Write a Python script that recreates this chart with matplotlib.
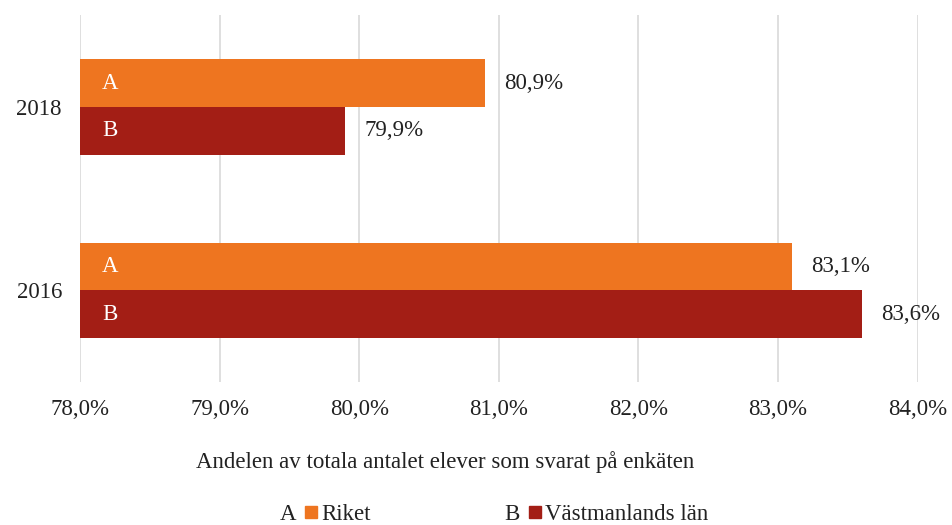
import matplotlib.pyplot as plt
from matplotlib.patches import Rectangle

# Data
years = ['2016', '2018']
riket = [83.1, 80.9]
vastmanland = [83.6, 79.9]
series_names = ['Riket', 'Västmanlands län']
series_letters = ['A', 'B']
colors = ['#EE7520', '#A31E15']
xticks = [78, 79, 80, 81, 82, 83, 84]

plt.rcParams['font.family'] = ['Liberation Serif', 'DejaVu Serif']
FS = 16.5

fig = plt.figure(figsize=(9.52, 5.25), dpi=100)
ax = fig.add_axes([0.084, 0.272, 0.88, 0.699])

h = 0.26
pos = list(range(len(years)))
bars_a = ax.barh([p + h / 2 for p in pos], [v - 78 for v in riket], left=78,
                 height=h, color=colors[0], zorder=2)
bars_b = ax.barh([p - h / 2 for p in pos], [v - 78 for v in vastmanland], left=78,
                 height=h, color=colors[1], zorder=2)

# value labels and letters inside bars
for bars, vals, letter in [(bars_a, riket, 'A'), (bars_b, vastmanland, 'B')]:
    for b, v in zip(bars, vals):
        yc = b.get_y() + b.get_height() / 2
        ax.annotate(f'{v:.1f}%'.replace('.', ','), (v, yc), xytext=(14, 0),
                    textcoords='offset points', ha='left', va='center',
                    fontsize=FS, color='#222222')
        ax.annotate(letter, (78, yc), xytext=(16, 0), textcoords='offset points',
                    ha='left', va='center', fontsize=FS, color='white')

ax.set_xlim(78, 84)
ax.set_ylim(-0.5, 1.5)
ax.set_xticks(xticks)
ax.set_xticklabels([f'{t:.1f}%'.replace('.', ',') for t in xticks], fontsize=FS, color='#222222')
ax.set_yticks(pos)
ax.set_yticklabels(years, fontsize=FS, color='#222222')
ax.tick_params(axis='x', length=0, pad=12)
ax.tick_params(axis='y', length=0, pad=13)
ax.grid(axis='x', color='#d9d9d9', linewidth=1.2, zorder=0)
for s in ax.spines.values():
    s.set_visible(False)

fig.text(0.468, 0.12, 'Andelen av totala antalet elever som svarat på enkäten',
         ha='center', va='center', fontsize=FS, color='#222222')

# legend: letter, colour square, name
legend_x = [0.294, 0.530]
for x0, letter, name, c in zip(legend_x, series_letters, series_names, colors):
    fig.text(x0, 0.010, letter, ha='left', va='baseline', fontsize=FS, color='#222222')
    fig.patches.append(Rectangle((x0 + 0.026, 0.014), 0.0125, 0.023,
                                 transform=fig.transFigure, color=c, figure=fig))
    fig.text(x0 + 0.043, 0.010, name, ha='left', va='baseline', fontsize=FS, color='#222222')

fig.savefig('out.png', dpi=100)
